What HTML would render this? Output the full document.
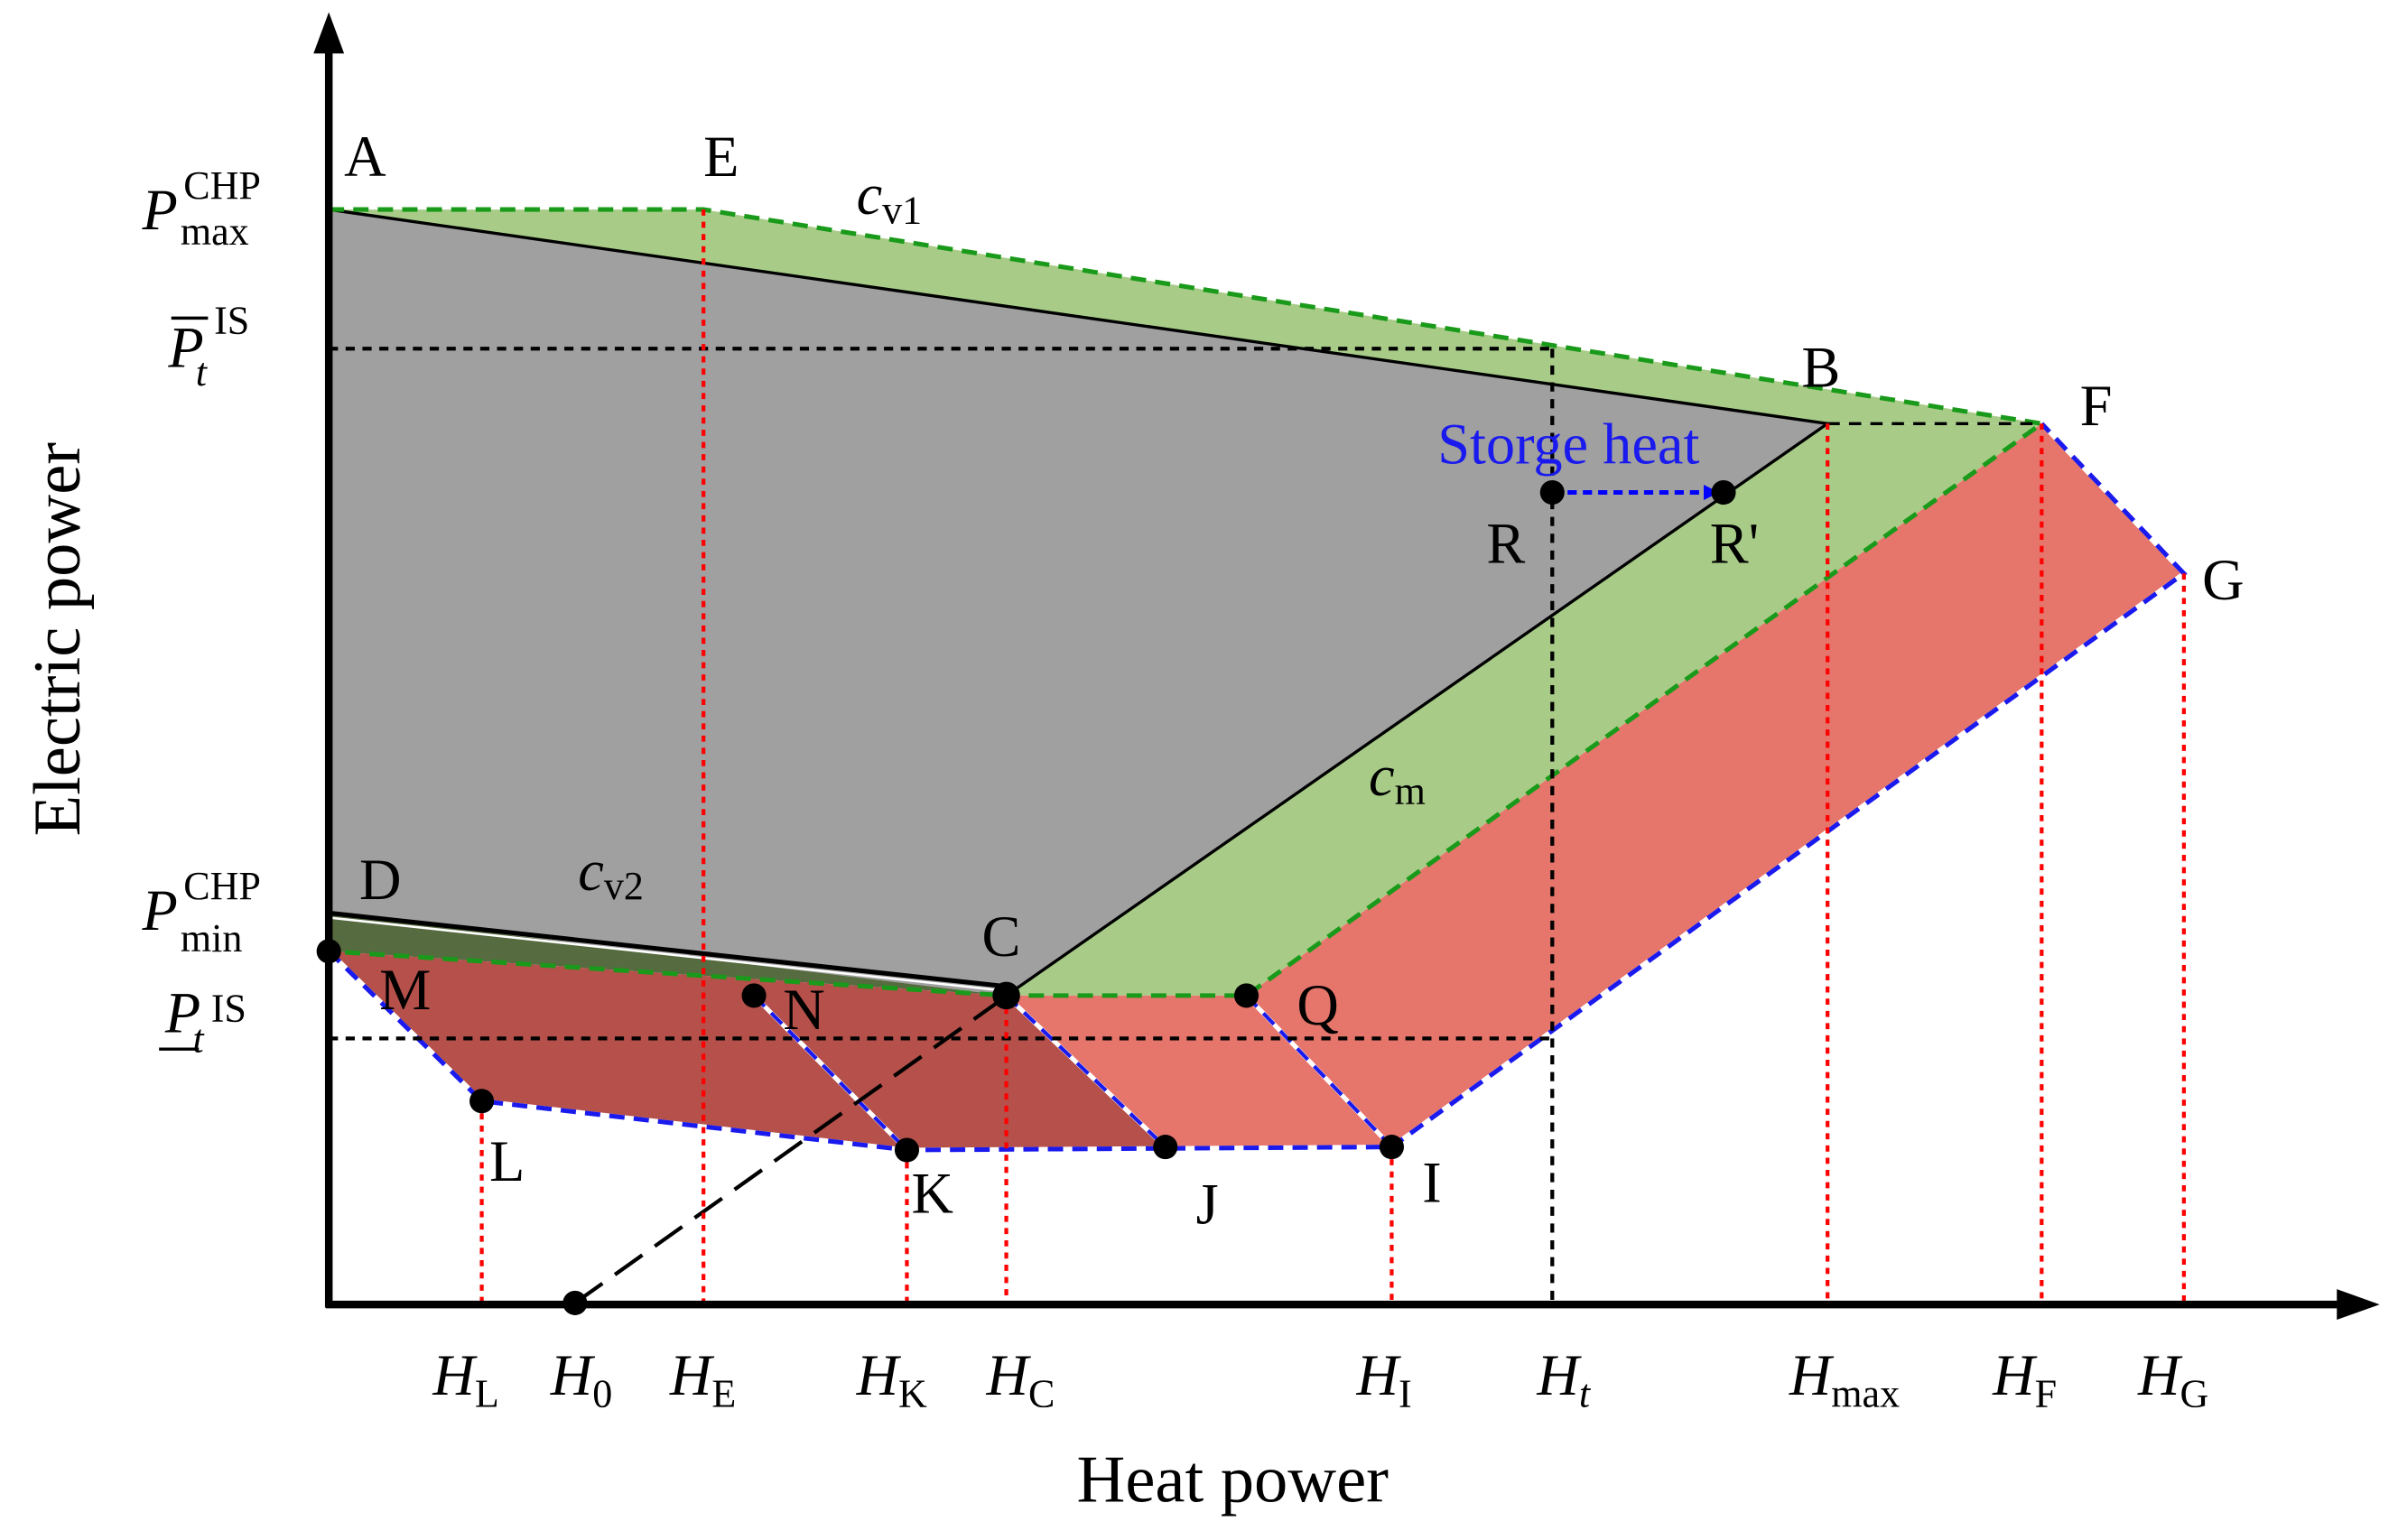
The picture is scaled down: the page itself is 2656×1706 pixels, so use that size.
<!DOCTYPE html>
<html><head><meta charset="utf-8"><style>
html,body{margin:0;padding:0;background:#fff}
svg{display:block}
text{font-family:"Liberation Serif",serif;fill:#000}
</style></head><body>
<svg width="2656" height="1706" viewBox="0 0 1568 1007" preserveAspectRatio="none" xmlns="http://www.w3.org/2000/svg">
<defs>
<marker id="ar" markerWidth="10" markerHeight="10" refX="8" refY="5" orient="auto" markerUnits="userSpaceOnUse"><path d="M0,0 L10,5 L0,10z" fill="#00f"/></marker>
</defs>
<g>
<polygon points="215,137 460,137 1335,277 1195,277" fill="#a8cc88"/>
<polygon points="215,137 1195,277 658,651 215,597" fill="#a0a0a0"/>
<polygon points="1195,277 1335,277 815,651 658,651" fill="#a8cc88"/>
<polygon points="215,597 658,651 658,651 215,622" fill="#566b40"/>
<polygon points="658,651 815,651 1335,277 1428,375 910,750 762,750" fill="#e6756b"/>
<polygon points="215,622 658,651 762,750 593,752 315,720" fill="#b5504a"/>
</g>
<g fill="none">
<line x1="215" y1="137" x2="1195" y2="277" stroke="#000" stroke-width="2"/>
<line x1="1195" y1="277" x2="658" y2="651" stroke="#000" stroke-width="2"/>
<line x1="215" y1="597" x2="658" y2="645" stroke="#000" stroke-width="3"/>
<line x1="215" y1="600" x2="658" y2="648" stroke="#fff" stroke-width="1.5"/>
<polyline points="215,137 460,137 1335,277 815,651 658,651 215,622" stroke="#1a9a1a" stroke-width="3" stroke-dasharray="10,6"/>
<line x1="1195" y1="277" x2="1335" y2="277" stroke="#000" stroke-width="2" stroke-dasharray="8,6"/>
<polyline points="215,622 315,720 593,752 910,750 1428,375 1335,277" stroke="#fff" stroke-width="3"/>
<polyline points="215,622 315,720 593,752 910,750 1428,375 1335,277" stroke="#1a1aee" stroke-width="3" stroke-dasharray="10,6"/>
<line x1="815" y1="651" x2="910" y2="750" stroke="#fff" stroke-width="3"/>
<line x1="815" y1="651" x2="910" y2="750" stroke="#1a1aee" stroke-width="2.5" stroke-dasharray="10,6"/>
<line x1="658" y1="651" x2="762" y2="750" stroke="#fff" stroke-width="3"/>
<line x1="658" y1="651" x2="762" y2="750" stroke="#1a1aee" stroke-width="2.5" stroke-dasharray="10,6"/>
<line x1="493" y1="651" x2="593" y2="752" stroke="#fff" stroke-width="3"/>
<line x1="493" y1="651" x2="593" y2="752" stroke="#1a1aee" stroke-width="2.5" stroke-dasharray="10,6"/>
<line x1="376" y1="852" x2="660" y2="650" stroke="#000" stroke-width="2.5" stroke-dasharray="22,10"/>
<line x1="215" y1="228" x2="1015" y2="228" stroke="#000" stroke-width="2.5" stroke-dasharray="6,5"/>
<line x1="215" y1="679" x2="1015" y2="679" stroke="#000" stroke-width="2.5" stroke-dasharray="6,5"/>
<line x1="1015" y1="228" x2="1015" y2="853" stroke="#000" stroke-width="2.5" stroke-dasharray="6,5"/>
</g>
<g stroke="#f00" stroke-width="2.5" stroke-dasharray="4,4">
<line x1="315" y1="720" x2="315" y2="853"/>
<line x1="460" y1="137" x2="460" y2="853"/>
<line x1="593" y1="752" x2="593" y2="853"/>
<line x1="658" y1="651" x2="658" y2="853"/>
<line x1="910" y1="750" x2="910" y2="853"/>
<line x1="1195" y1="277" x2="1195" y2="853"/>
<line x1="1335" y1="277" x2="1335" y2="853"/>
<line x1="1428" y1="375" x2="1428" y2="853"/>
</g>
<g>
<line x1="1015" y1="322" x2="1122" y2="322" stroke="#00f" stroke-width="3" stroke-dasharray="6,4" marker-end="url(#ar)"/>
<text x="940" y="303" font-size="38" style="fill:#1a1aee">Storge heat</text>
</g>
<g fill="#000">
<circle cx="215" cy="622" r="8"/><circle cx="315" cy="720" r="8"/><circle cx="493" cy="651" r="8"/>
<circle cx="593" cy="752" r="8"/><circle cx="658" cy="651" r="9"/><circle cx="762" cy="750" r="8"/>
<circle cx="815" cy="651" r="8"/><circle cx="910" cy="750" r="8"/><circle cx="376" cy="852" r="8"/>
<circle cx="1015" cy="322" r="8"/><circle cx="1127" cy="322" r="8"/>
</g>
<g stroke="#000" stroke-width="5" fill="#000">
<line x1="215" y1="855" x2="215" y2="30"/>
<path d="M215,8 L205,35 L225,35z" stroke="none"/>
<line x1="213" y1="853" x2="1530" y2="853"/>
<path d="M1556,853 L1528,843 L1528,863z" stroke="none"/>
</g>
<g font-size="38">
<text x="225" y="115">A</text><text x="460" y="115">E</text><text x="1178" y="253">B</text>
<text x="1360" y="278">F</text><text x="1440" y="392">G</text><text x="235" y="588">D</text>
<text x="642" y="625">C</text><text x="248" y="660">M</text><text x="512" y="673">N</text>
<text x="848" y="670">Q</text><text x="320" y="772">L</text><text x="596" y="793">K</text>
<text x="782" y="800">J</text><text x="930" y="786">I</text><text x="972" y="368">R</text>
<text x="1118" y="368">R'</text>
<text x="560" y="140" font-style="italic">c<tspan font-style="normal" font-size="26" dy="6">v1</tspan></text>
<text x="378" y="582" font-style="italic">c<tspan font-style="normal" font-size="26" dy="6">v2</tspan></text>
<text x="895" y="520" font-style="italic">c<tspan font-style="normal" font-size="26" dy="6">m</tspan></text>
</g>
<g font-size="38">
<text x="93" y="150" font-style="italic">P</text>
<text x="120" y="130" font-size="26">CHP</text>
<text x="118" y="160" font-size="26">max</text>
<text x="110" y="240" font-style="italic">P</text>
<text x="128" y="252" font-size="26" font-style="italic">t</text>
<text x="140" y="218" font-size="26">IS</text>
<line x1="112" y1="208" x2="136" y2="208" stroke="#000" stroke-width="2"/>
<text x="93" y="608" font-style="italic">P</text>
<text x="120" y="588" font-size="26">CHP</text>
<text x="118" y="622" font-size="26">min</text>
<text x="108" y="675" font-style="italic">P</text>
<text x="126" y="688" font-size="26" font-style="italic">t</text>
<text x="138" y="668" font-size="26">IS</text>
<line x1="104" y1="686" x2="130" y2="686" stroke="#000" stroke-width="2"/>
</g>
<g font-size="38" font-style="italic">
<text x="283" y="912">H<tspan font-style="normal" font-size="26" dy="8">L</tspan></text>
<text x="360" y="912">H<tspan font-style="normal" font-size="26" dy="8">0</tspan></text>
<text x="438" y="912">H<tspan font-style="normal" font-size="26" dy="8">E</tspan></text>
<text x="560" y="912">H<tspan font-style="normal" font-size="26" dy="8">K</tspan></text>
<text x="645" y="912">H<tspan font-style="normal" font-size="26" dy="8">C</tspan></text>
<text x="887" y="912">H<tspan font-style="normal" font-size="26" dy="8">I</tspan></text>
<text x="1005" y="912">H<tspan font-size="26" dy="8">t</tspan></text>
<text x="1170" y="912">H<tspan font-style="normal" font-size="26" dy="8">max</tspan></text>
<text x="1303" y="912">H<tspan font-style="normal" font-size="26" dy="8">F</tspan></text>
<text x="1398" y="912">H<tspan font-style="normal" font-size="26" dy="8">G</tspan></text>
</g>
<text x="806" y="982" font-size="44" text-anchor="middle">Heat power</text>
<text x="52" y="418" font-size="44" text-anchor="middle" transform="rotate(-90 52 418)">Electric power</text>
</svg>
</body></html>
